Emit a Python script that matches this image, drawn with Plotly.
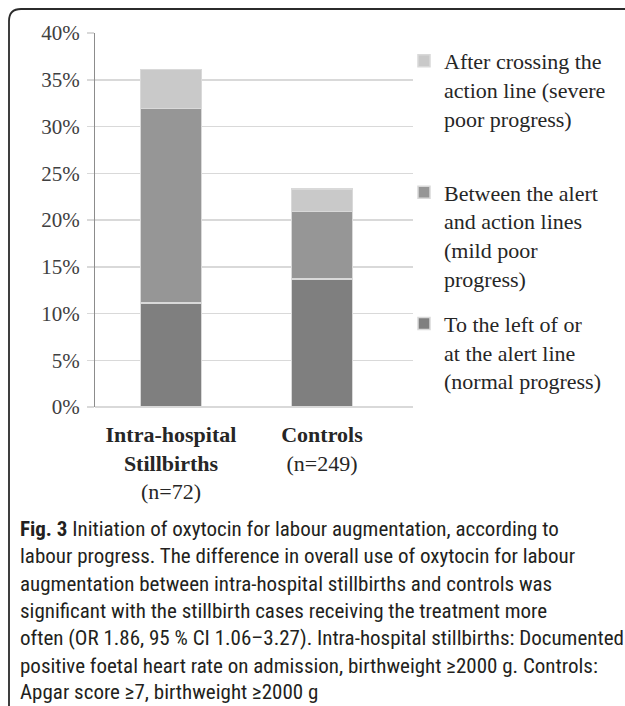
import plotly.graph_objects as go

# ---------------- data ----------------
categories = ["Intra-hospital Stillbirths", "Controls"]
tick_labels = ["<b>Intra-hospital<br>Stillbirths</b><br>(n=72)", "<b>Controls</b><br>(n=249)"]
series_names = [
    "To the left of or<br>at the alert line<br>(normal progress)",
    "Between the alert<br>and action lines<br>(mild poor<br>progress)",
    "After crossing the<br>action line (severe<br>poor progress)<br> ",
]
normal_progress = [11.1, 13.7]
mild_poor_progress = [20.8, 7.2]
severe_poor_progress = [4.2, 2.4]
series_values = [normal_progress, mild_poor_progress, severe_poor_progress]
series_colors = ["#7f7f7f", "#969696", "#c9c9c9"]
legend_ranks = [3, 2, 1]
y_ticks = [0, 5, 10, 15, 20, 25, 30, 35, 40]
y_tick_labels = ["0%", "5%", "10%", "15%", "20%", "25%", "30%", "35%", "40%"]

caption_lines = [
    "<b>Fig. 3</b> Initiation of oxytocin for labour augmentation, according to",
    "labour progress. The difference in overall use of oxytocin for labour",
    "augmentation between intra-hospital stillbirths and controls was",
    "significant with the stillbirth cases receiving the treatment more",
    "often (OR 1.86, 95 % CI 1.06–3.27). Intra-hospital stillbirths: Documented",
    "positive foetal heart rate on admission, birthweight ≥2000 g. Controls:",
    "Apgar score ≥7, birthweight ≥2000 g",
]

# ---------------- layout geometry (pixels) ----------------
W, H = 625, 706
L, R, T, B = 95, 413, 33, 407  # plot area in pixels


def xp(px):
    return (px - L) / (R - L)


def yp(py):
    return (B - py) / (B - T)


SERIF = "Liberation Serif, Times New Roman, serif"
CAPTION_FONT = "Liberation Sans Narrow, Arial Narrow, Roboto Condensed, Liberation Sans, sans-serif"

fig = go.Figure()
for i, (name, vals, col, rk) in enumerate(zip(series_names, series_values, series_colors, legend_ranks)):
    fig.add_trace(go.Bar(
        x=categories, y=vals, name=name,
        marker=dict(color=col, line=dict(color="#d9d9d9", width=1.5)),
        width=0.404, legendgroup=f"g{i}", legendrank=rk,
        hoverinfo="skip",
    ))

shapes = []
# rounded frame (top-left corner, continuing past right and bottom edges)
r = 12
fl, ft = 9, 9
path = (
    f"M {xp(660)} {yp(ft)} L {xp(fl + r)} {yp(ft)} "
    f"Q {xp(fl)} {yp(ft)} {xp(fl)} {yp(ft + r)} "
    f"L {xp(fl)} {yp(740)}"
)
shapes.append(dict(type="path", xref="paper", yref="paper", path=path,
                   line=dict(color="#2b2b2b", width=1.8)))

annotations = []
cap_y = [529, 556.3, 583.6, 610.9, 638.2, 665.5, 692]
for txt, py in zip(caption_lines, cap_y):
    annotations.append(dict(
        text=txt, xref="paper", yref="paper", x=xp(18), y=yp(py),
        xanchor="left", yanchor="middle", showarrow=False,
        font=dict(family=CAPTION_FONT, size=21, color="#231f20"),
    ))

fig.update_layout(
    width=W, height=H,
    margin=dict(l=L, r=W - R, t=T, b=H - B, pad=0),
    paper_bgcolor="white", plot_bgcolor="white",
    barmode="stack",
    bargap=0,
    showlegend=True,
    legend=dict(
        x=xp(404), y=yp(40), xanchor="left", yanchor="top",
        font=dict(family=SERIF, size=22, color="#262626"),
        valign="top", traceorder="grouped", tracegroupgap=14,
        bgcolor="rgba(0,0,0,0)",
    ),
    xaxis=dict(
        type="category", range=[-0.503, 1.603],
        tickvals=categories, ticktext=tick_labels,
        showgrid=False, showline=False, zeroline=False, ticks="",
        tickfont=dict(family=SERIF, size=22, color="#262626"),
        ticklabelstandoff=12,
        fixedrange=True,
    ),
    yaxis=dict(
        range=[0, 40], tickvals=y_ticks, ticktext=y_tick_labels,
        showgrid=True, gridcolor="#d9d9d9", gridwidth=1.5,
        zeroline=True, zerolinecolor="#d9d9d9", zerolinewidth=1.5,
        showline=True, linecolor="#8c8c8c", linewidth=1,
        ticks="outside", ticklen=7, tickcolor="#d9d9d9", tickwidth=1.5,
        tickfont=dict(family=SERIF, size=21, color="#404040"),
        ticklabelstandoff=3,
        fixedrange=True,
    ),
    shapes=shapes,
    annotations=annotations,
)

fig.write_html(
    "out.html",
    config={"displayModeBar": False, "staticPlot": True},
    post_script="document.body.style.margin='0';document.body.style.padding='0';",
)
